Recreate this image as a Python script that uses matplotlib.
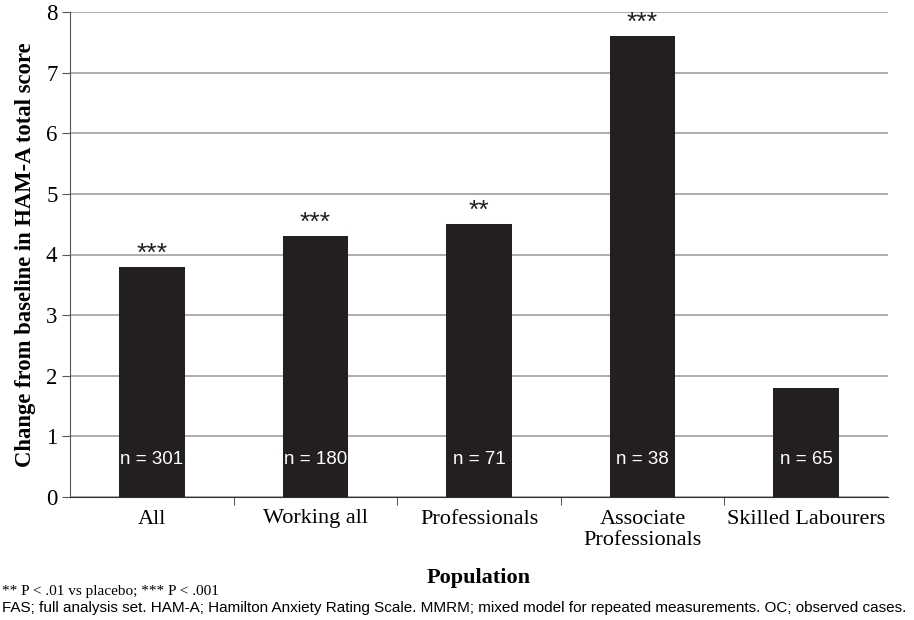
import matplotlib
matplotlib.use("Agg")
import matplotlib.pyplot as plt
import numpy as np

categories = ["All", "Working all", "Professionals", "Associate\nProfessionals", "Skilled Labourers"]
values = [3.8, 4.3, 4.5, 7.6, 1.8]
n_labels = ["n = 301", "n = 180", "n = 71", "n = 38", "n = 65"]
stars = ["***", "***", "**", "***", ""]
yticks = [0, 1, 2, 3, 4, 5, 6, 7, 8]

fig = plt.figure(figsize=(9.14, 6.2), dpi=100)
ax = fig.add_axes([70/914, 1-497/620, 818/914, 485/620])

x = np.arange(len(categories))
ax.bar(x, values, width=0.4, color="#231f20", zorder=3)
ax.set_xlim(-0.5, len(categories) - 0.5)
ax.set_ylim(0, 8)
ax.set_yticks(yticks)
ax.set_yticklabels([str(t) for t in yticks], fontsize=16.5, fontfamily="Liberation Serif")
ax.yaxis.grid(True, color="#a0a0a0", linewidth=1.2, zorder=0)
ax.set_xticks(x)
ax.set_xticklabels(categories, fontsize=16, fontfamily="Liberation Serif", linespacing=1.15)
ax.tick_params(axis="x", length=0, pad=9)
ax.set_xticks(np.arange(0.5, len(categories) - 0.5, 1), minor=True)
ax.tick_params(axis="x", which="minor", length=6, direction="out", color="#333333")
ax.tick_params(axis="y", length=6, direction="out", color="#555555", pad=3)
for s in ["top", "right"]:
    ax.spines[s].set_visible(False)
ax.spines["left"].set_color("#555555")
ax.spines["bottom"].set_color("#333333")

for xi, v, nl, st in zip(x, values, n_labels, stars):
    ax.text(xi, 0.62, nl, ha="center", va="center", color="white", fontsize=13.5,
            fontfamily="Liberation Sans", zorder=4)
    if st:
        ax.text(xi, v + 0.02, st, ha="center", va="bottom", fontsize=19,
                fontfamily="Liberation Sans", color="#231f20")

ax.set_ylabel("Change from baseline in HAM-A total score", fontsize=16.3,
              fontweight="bold", fontfamily="Liberation Serif", labelpad=7)

fig.text(479/914, 1-578/620, "Population", ha="center", va="center", fontsize=16,
         fontweight="bold", fontfamily="Liberation Serif")
fig.text(2/914, 1-592/620, "** P < .01 vs placebo; *** P < .001", ha="left", va="center",
         fontsize=11, fontfamily="Liberation Serif")
fig.text(2/914, 1-608/620,
         "FAS; full analysis set. HAM-A; Hamilton Anxiety Rating Scale. MMRM; mixed model for repeated measurements. OC; observed cases.",
         ha="left", va="center", fontsize=11, fontfamily="Liberation Sans")

fig.savefig("out.png", dpi=100)
